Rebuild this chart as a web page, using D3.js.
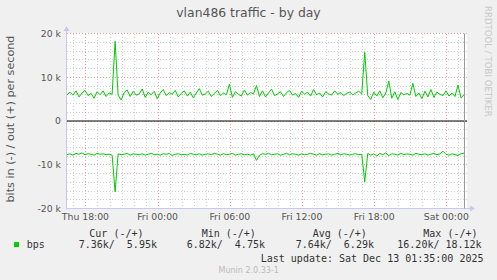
<!DOCTYPE html>
<html>
<head>
<meta charset="utf-8">
<script src="https://cdn.jsdelivr.net/npm/d3@7"></script>
<style>
    body { margin: 0; background: #f0f0f0; }
    text { font-family: "DejaVu Sans", sans-serif; }
    .mono { font-family: "DejaVu Sans Mono", monospace; white-space: pre; }
</style>
</head>
<body>
<div id="chart"></div>
<script>
// samples every 15 minutes, values in k (bits per second / 1000)
var startTime = new Date(2025, 11, 11, 16, 28);
var stepMinutes = 15;

// out (+)
var outValues = [
    6.0, 6.6, 5.9, 6.9, 5.5, 6.4, 7.0, 5.8, 6.3, 5.2, 6.7, 6.0, 6.9, 5.6, 6.4, 6.1,
    18.2,
    5.9, 4.8, 6.5, 7.1, 5.6, 6.8, 5.9, 6.2, 7.3, 5.4, 6.6, 6.0, 6.8, 5.1, 6.4,
    7.2, 5.8, 6.5, 6.1, 7.0, 5.5, 6.3, 6.9, 5.7, 6.6, 5.3, 6.4, 7.4, 5.9, 6.2,
    6.8, 5.6, 6.3, 7.0, 5.8, 6.4, 6.0, 8.4,
    5.4, 6.7, 6.1, 5.7, 7.1, 5.9, 6.5, 6.2, 8.1, 5.6,
    6.9, 5.5, 6.4, 7.3, 5.8, 6.2, 6.7, 5.6, 6.5, 7.0, 5.9, 6.3, 5.4, 6.8, 6.1, 6.6, 5.7,
    7.2, 6.0, 6.4, 5.5, 6.7, 6.2, 5.9, 6.9, 6.1, 6.5, 5.8, 6.3, 6.6, 6.0, 6.4, 6.8, 6.2,
    15.7,
    5.8, 4.9, 6.6, 5.7, 6.9, 5.3, 6.4, 9.1, 5.2, 6.7, 4.9, 6.5, 6.0, 6.3, 5.9, 8.6, 5.6,
    6.4, 5.1, 6.8, 5.5, 7.2, 5.4, 6.6, 6.1, 5.8, 6.9, 5.7, 6.4, 5.6, 8.2, 5.3, 5.95
];

// in (-)
var inValues = [
    -7.7, -7.5, -7.8, -7.4, -7.6, -7.3, -7.7, -7.5, -7.6, -7.8, -7.4, -7.6, -7.5, -7.7, -7.6, -7.8,
    -16.2,
    -7.5, -7.7, -7.6, -7.4, -7.8, -7.5, -7.6, -7.7, -7.5, -7.8,
    -7.6, -7.4, -7.7, -7.6, -7.8, -7.5, -7.6, -7.4, -7.9, -7.6,
    -7.5, -7.7, -7.6, -7.8, -7.4, -7.6, -7.7, -7.5, -7.8, -7.6,
    -7.5, -7.7, -7.4, -7.6, -7.8, -7.5, -7.7, -7.6, -7.4, -7.8,
    -7.6, -7.5, -7.7, -7.6, -7.8, -7.5,
    -9.0,
    -7.8, -7.5, -7.6, -7.4, -7.7, -7.6, -7.5, -7.8, -7.6, -7.4,
    -7.7, -7.5, -7.6, -7.8, -7.5, -7.7, -7.6, -7.4, -7.6, -7.8,
    -7.5, -7.7, -7.6, -7.5, -7.8, -7.6, -7.4, -7.7, -7.5, -7.6,
    -7.8, -7.6, -7.5, -7.7, -7.6,
    -13.9,
    -7.4, -7.8, -7.5, -8.0, -7.4, -7.7, -7.3, -7.9, -7.5, -7.6,
    -7.8, -7.4, -7.7, -7.5, -7.6, -7.8, -7.4, -7.6, -7.7, -7.5,
    -7.8, -7.6, -7.4, -7.7, -7.5, -6.9, -7.6, -7.8, -7.5, -7.7, -7.9, -7.5, -7.36
];

var yTickValues = [-20000, -10000, 0, 10000, 20000];
var yTickLabels = ["-20 k", "-10 k", "0", "10 k", "20 k"];

var xTickTimes = [
    new Date(2025, 11, 11, 18, 0),
    new Date(2025, 11, 12, 0, 0),
    new Date(2025, 11, 12, 6, 0),
    new Date(2025, 11, 12, 12, 0),
    new Date(2025, 11, 12, 18, 0),
    new Date(2025, 11, 13, 0, 0)
];

var legendHeaders = ["Cur (-/+)", "Min (-/+)", "Avg (-/+)", "Max (-/+)"];
var legendValues = ["7.36k/  5.95k", "6.82k/  4.75k", "7.64k/  6.29k", "16.20k/ 18.12k"];
var seriesName = "bps";
var lastUpdate = "Last update: Sat Dec 13 01:35:00 2025";

var W = 497, H = 280;
var plot = {left: 67, right: 467, top: 33.5, bottom: 208.5};

var svg = d3.select("#chart").append("svg")
    .attr("width", W)
    .attr("height", H);

svg.append("rect")
    .attr("width", W).attr("height", H)
    .attr("fill", "#f0f0f0");

svg.append("rect")
    .attr("x", plot.left).attr("y", plot.top - 0.5)
    .attr("width", plot.right - plot.left).attr("height", plot.bottom - plot.top + 0.5)
    .attr("fill", "#ffffff");

//////////
// SCALES //
//////////

var x = d3.scaleTime()
    .domain([startTime, new Date(2025, 11, 13, 1, 48)])
    .range([plot.left, plot.right + 1]);

var y = d3.scaleLinear()
    .domain([-20000, 20000])
    .range([plot.bottom, plot.top]);

var outData = outValues.map(function(v, i) {
    return {t: d3.timeMinute.offset(startTime, i * stepMinutes), v: v * 1000};
});
var inData = inValues.map(function(v, i) {
    return {t: d3.timeMinute.offset(startTime, i * stepMinutes), v: v * 1000};
});

//////////
// GRID //
//////////

var grid = svg.append("g").attr("shape-rendering", "crispEdges");

// minor: every hour / every 2k
var hours = x.ticks(d3.timeHour.every(1)).filter(function(d) {
    return x(d) > plot.left + 1 && x(d) < plot.right;
});
grid.selectAll(".vminor")
    .data(hours)
    .enter().append("line")
    .attr("x1", function(d) { return Math.round(x(d)) + 0.5; })
    .attr("x2", function(d) { return Math.round(x(d)) + 0.5; })
    .attr("y1", plot.top).attr("y2", plot.bottom)
    .attr("stroke", "#cfcfcf")
    .attr("stroke-dasharray", "1,2");

grid.selectAll(".hminor")
    .data(d3.range(-18000, 20000, 2000))
    .enter().append("line")
    .attr("x1", plot.left).attr("x2", plot.right + 2)
    .attr("y1", function(d) { return Math.round(y(d) - 0.5) + 0.5; })
    .attr("y2", function(d) { return Math.round(y(d) - 0.5) + 0.5; })
    .attr("stroke", "#cfcfcf")
    .attr("stroke-dasharray", "1,2");

// major: every 6 hours / every 10k
grid.selectAll(".vmajor")
    .data(xTickTimes)
    .enter().append("line")
    .attr("x1", function(d) { return Math.round(x(d)) + 0.5; })
    .attr("x2", function(d) { return Math.round(x(d)) + 0.5; })
    .attr("y1", plot.top).attr("y2", plot.bottom)
    .attr("stroke", "#eea0a0")
    .attr("stroke-dasharray", "1,2");

grid.selectAll(".hmajor")
    .data(yTickValues)
    .enter().append("line")
    .attr("x1", plot.left).attr("x2", plot.right + 2)
    .attr("y1", function(d) { return Math.round(y(d) - 0.5) + 0.5; })
    .attr("y2", function(d) { return Math.round(y(d) - 0.5) + 0.5; })
    .attr("stroke", "#eea0a0")
    .attr("stroke-dasharray", "1,2");

//////////
// AXES //
//////////

var axisColor = "#c8c8f0";

// left axis with arrow
svg.append("line")
    .attr("x1", plot.left - 0.5).attr("x2", plot.left - 0.5)
    .attr("y1", plot.bottom + 1).attr("y2", 29)
    .attr("stroke", axisColor);
svg.append("path")
    .attr("d", "M" + (plot.left - 3.5) + ",31 L" + (plot.left - 0.5) + ",26 L" + (plot.left + 2.5) + ",31 Z")
    .attr("fill", axisColor);

// bottom axis with arrow
svg.append("line")
    .attr("x1", plot.left - 1).attr("x2", 470)
    .attr("y1", plot.bottom).attr("y2", plot.bottom)
    .attr("stroke", axisColor);
svg.append("path")
    .attr("d", "M470," + (plot.bottom - 3) + " L475," + plot.bottom + " L470," + (plot.bottom + 3) + " Z")
    .attr("fill", axisColor);

// y tick labels
svg.selectAll(".ylab")
    .data(yTickValues)
    .enter().append("text")
    .attr("x", 61)
    .attr("y", function(d) { return y(d); })
    .attr("dy", "0.35em")
    .attr("text-anchor", "end")
    .attr("font-size", "9.3px")
    .attr("fill", "#555")
    .text(function(d, i) { return yTickLabels[i]; });

// x tick labels
var fmt = d3.timeFormat("%a %H:%M");
svg.selectAll(".xlab")
    .data(xTickTimes)
    .enter().append("text")
    .attr("x", function(d) { return x(d); })
    .attr("y", 219.5)
    .attr("text-anchor", "middle")
    .attr("font-size", "9.3px")
    .attr("fill", "#555")
    .text(function(d) { return fmt(d); });

//////////
// LINES //
//////////

var line = d3.line()
    .x(function(d) { return x(d.t); })
    .y(function(d) { return y(d.v); });

// zero line
svg.append("line")
    .attr("x1", plot.left).attr("x2", plot.right)
    .attr("y1", y(0)).attr("y2", y(0))
    .attr("stroke", "#000")
    .attr("stroke-width", 1);

svg.append("path")
    .datum(inData)
    .attr("d", line)
    .attr("fill", "none")
    .attr("stroke", "#00cc00")
    .attr("stroke-width", 1);

svg.append("path")
    .datum(outData)
    .attr("d", line)
    .attr("fill", "none")
    .attr("stroke", "#00cc00")
    .attr("stroke-width", 1);

// marker at end of data
var lastX = Math.round(x(outData[outData.length - 1].t)) + 0.5;
svg.append("line")
    .attr("x1", lastX).attr("x2", lastX)
    .attr("y1", plot.top).attr("y2", plot.bottom)
    .attr("stroke", "#999");

//////////
// TEXTS //
//////////

svg.append("text")
    .attr("x", W / 2)
    .attr("y", 17)
    .attr("text-anchor", "middle")
    .attr("font-size", "12.4px")
    .attr("fill", "#555")
    .text("vlan486 traffic - by day");

svg.append("text")
    .attr("transform", "translate(10.5," + 119 + ") rotate(-90)")
    .attr("text-anchor", "middle")
    .attr("dy", "0.35em")
    .attr("font-size", "11.2px")
    .attr("fill", "#555")
    .text("bits in (-) / out (+) per second");

svg.append("text")
    .attr("transform", "translate(485,6) rotate(90)")
    .attr("font-size", "8.6px")
    .attr("fill", "#c8c8c8")
    .text("RRDTOOL / TOBI OETIKER");

//////////
// LEGEND //
//////////

var headerX = [89.3, 201.7, 312.7, 423.3];
var valueX = [78.7, 186.7, 295.7, 397.3];

svg.append("rect")
    .attr("x", 14).attr("y", 242)
    .attr("width", 5).attr("height", 5)
    .attr("fill", "#00cc00");

svg.append("text")
    .attr("class", "mono")
    .attr("x", 26.7).attr("y", 248.3)
    .attr("font-size", "10px")
    .attr("fill", "#333")
    .text(seriesName);

svg.selectAll(".lhead")
    .data(legendHeaders)
    .enter().append("text")
    .attr("class", "mono")
    .attr("x", function(d, i) { return headerX[i]; })
    .attr("y", 236.5)
    .attr("font-size", "10px")
    .attr("fill", "#333")
    .text(function(d) { return d; });

svg.selectAll(".lval")
    .data(legendValues)
    .enter().append("text")
    .attr("class", "mono")
    .attr("x", function(d, i) { return valueX[i]; })
    .attr("y", 248.3)
    .attr("font-size", "10px")
    .attr("fill", "#333")
    .text(function(d) { return d; });

svg.append("text")
    .attr("class", "mono")
    .attr("x", 483.5).attr("y", 261.5)
    .attr("text-anchor", "end")
    .attr("font-size", "10px")
    .attr("fill", "#333")
    .text(lastUpdate);

svg.append("text")
    .attr("x", 248.7).attr("y", 272.5)
    .attr("text-anchor", "middle")
    .attr("font-size", "8px")
    .attr("fill", "#bbb")
    .text("Munin 2.0.33-1");
</script>
</body>
</html>
